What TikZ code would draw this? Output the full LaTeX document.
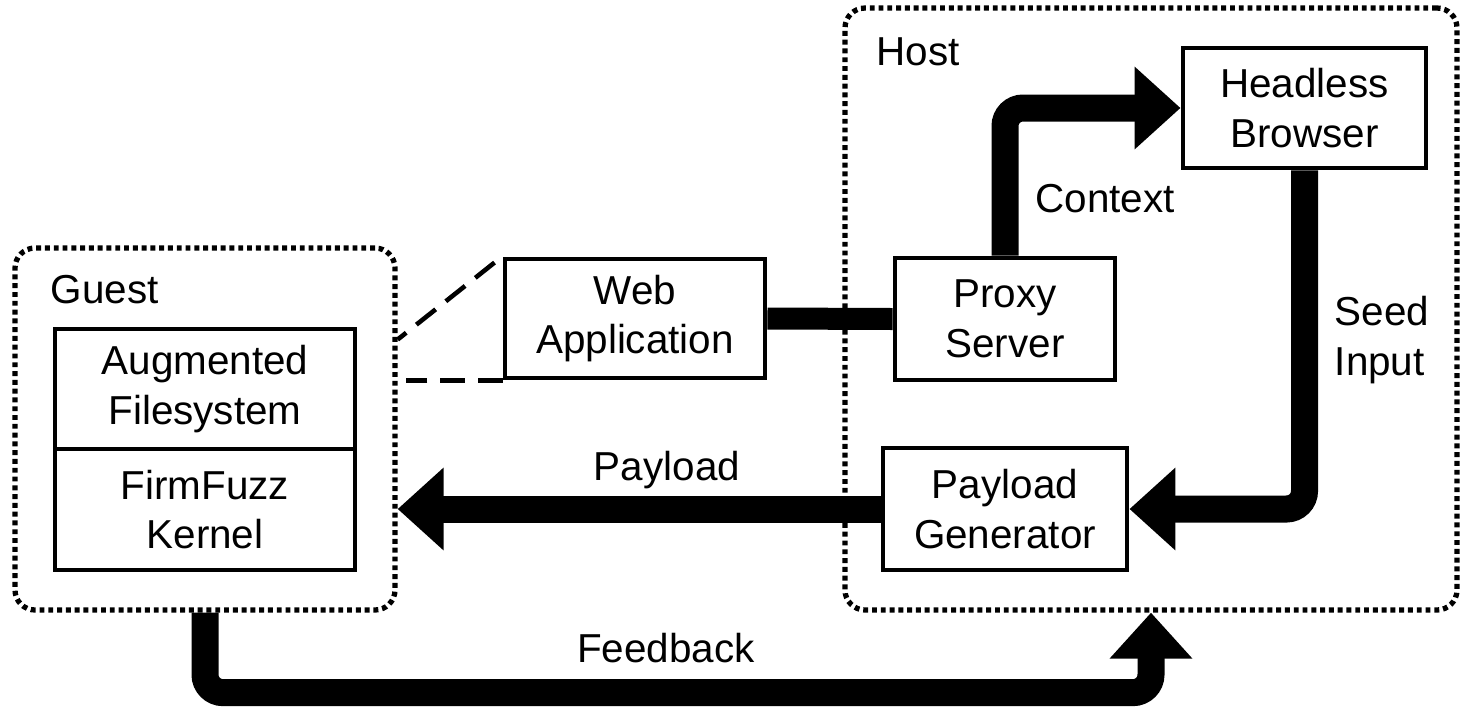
\documentclass[tikz,border=0pt]{standalone}
\usepackage{fontspec}
\setmainfont{Liberation Sans}
\usetikzlibrary{arrows.meta}

\begin{document}
\begin{tikzpicture}[
    every node/.style={font=\fontsize{11.5}{14.2}\selectfont},
    block/.style={draw, line width=1.4pt, align=center, inner sep=0pt},
    zone/.style={draw, line width=1.5pt, dash pattern=on 1.4pt off 1.1pt, rounded corners=0.2cm, inner sep=0pt},
    flow/.style={line width=0.27cm, rounded corners=0.18cm, -{Triangle[length=0.46cm, width=0.8cm]}},
    pipe/.style={line width=0.22cm},
    link/.style={line width=1.3pt, dash pattern=on 7pt off 3.7pt},
    tag/.style={anchor=base, inner sep=0pt}]
    \useasboundingbox (0, 0) rectangle (14.6, 7.06);

    \node[zone, minimum width=3.8cm, minimum height=3.62cm] (guest) at (2.05, 2.77) {};
    \node[zone, minimum width=6.12cm, minimum height=6.02cm] (host) at (11.51, 3.97) {};
    \node[tag, anchor=base west] (guestlbl) at (0.5, 4.03) {Guest};
    \node[tag, anchor=base west] (hostlbl) at (8.76, 6.41) {Host};

    \node[block, minimum width=3cm, minimum height=1.2cm] (fs) at (2.05, 3.17) {Augmented\\Filesystem};
    \node[block, minimum width=3cm, minimum height=1.21cm] (kernel) at (2.05, 1.965) {FirmFuzz\\Kernel};
    \node[block, minimum width=2.6cm, minimum height=1.19cm] (web) at (6.35, 3.875) {Web\\Application};
    \node[block, minimum width=2.2cm, minimum height=1.22cm] (proxy) at (10.05, 3.87) {Proxy\\Server};
    \node[block, minimum width=2.43cm, minimum height=1.2cm] (browser) at (13.045, 5.98) {Headless\\Browser};
    \node[block, minimum width=2.44cm, minimum height=1.22cm] (generator) at (10.05, 1.97) {Payload\\Generator};

    \draw[link] ([shift={(-0.08cm,-0.06cm)}]web.north west) -- ([yshift=-0.13cm]guest.east |- fs.north);
    \draw[link] (web.south west) -- ([xshift=0.08cm]guest.east |- web.south west);

    \draw[pipe] (web.east) -- (proxy.west);
    \draw[flow] (proxy.north) |- (browser.west);
    \draw[flow] (browser.south) |- (generator.east);
    \draw[flow] (generator.west) -- (generator.west -| guest.east);
    \draw[flow] (guest.south) -- ++(0, -0.8) -| (host.south);

    \node[tag] (context) at (11.05, 4.94) {Context};
    \node[align=left, inner sep=0pt] (seed) at (13.82, 3.66) {Seed\\Input};
    \node[tag] (payload) at (6.67, 2.26) {Payload};
    \node[tag] (feedback) at (6.66, 0.44) {Feedback};
\end{tikzpicture}
\end{document}
